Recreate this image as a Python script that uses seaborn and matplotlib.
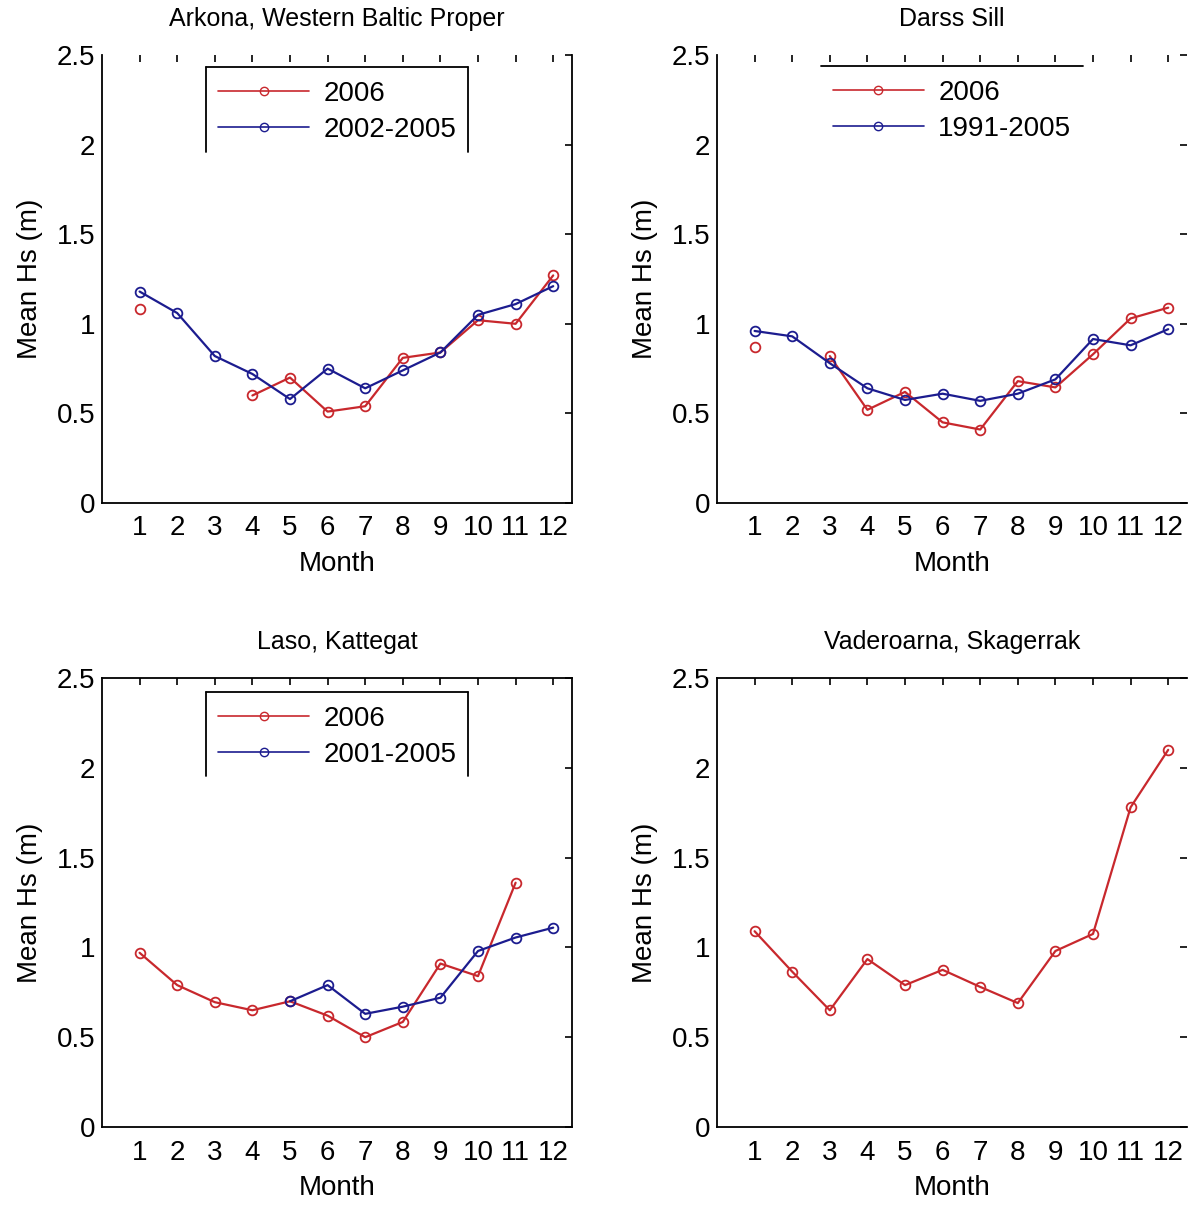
import numpy as np
import pandas as pd
import matplotlib
matplotlib.use("Agg")
import matplotlib.pyplot as plt
from matplotlib.lines import Line2D
import seaborn as sns

nan = np.nan
months = list(range(1, 13))
titles = ["Arkona, Western Baltic Proper", "Darss Sill", "Laso, Kattegat", "Vaderoarna, Skagerrak"]
clim_labels = ["2002-2005", "1991-2005", "2001-2005", None]

arkona_2006 = [1.08, nan, nan, 0.60, 0.70, 0.51, 0.54, 0.81, 0.84, 1.02, 1.00, 1.27]
arkona_clim = [1.18, 1.06, 0.82, 0.72, 0.58, 0.75, 0.64, 0.74, 0.84, 1.05, 1.11, 1.21]
darss_2006 = [0.87, nan, 0.82, 0.52, 0.62, 0.45, 0.41, 0.68, 0.645, 0.83, 1.03, 1.09]
darss_clim = [0.96, 0.93, 0.78, 0.64, 0.575, 0.61, 0.57, 0.61, 0.69, 0.915, 0.88, 0.97]
laso_2006 = [0.97, 0.79, 0.695, 0.65, 0.70, 0.62, 0.50, 0.585, 0.91, 0.84, 1.36, nan]
laso_clim = [nan, nan, nan, nan, 0.70, 0.79, 0.63, 0.67, 0.72, 0.98, 1.055, 1.11]
vader_2006 = [1.09, 0.865, 0.65, 0.935, 0.79, 0.875, 0.78, 0.69, 0.98, 1.075, 1.78, 2.10]

series_2006 = [arkona_2006, darss_2006, laso_2006, vader_2006]
series_clim = [arkona_clim, darss_clim, laso_clim, None]

RED = "#c8282d"
BLUE = "#1c1c8f"

sns.set_theme(style="white")
plt.rcParams["font.family"] = ["Liberation Sans", "DejaVu Sans"]
plt.rcParams["font.size"] = 20
plt.rcParams["text.color"] = "black"
plt.rcParams["axes.labelcolor"] = "black"
plt.rcParams["xtick.color"] = "black"
plt.rcParams["ytick.color"] = "black"


def to_segments(vals):
    rows = []
    seg = 0
    prev_nan = True
    for m, v in zip(months, vals):
        if v is None or (isinstance(v, float) and np.isnan(v)):
            prev_nan = True
            continue
        if prev_nan:
            seg += 1
        prev_nan = False
        rows.append({"month": m, "hs": v, "seg": seg})
    return pd.DataFrame(rows)


fig = plt.figure(figsize=(11.96, 12.06), dpi=100)
W, H = 1196, 1206
boxes = [(102, 55, 572, 503), (717, 55, 1187, 503),
         (102, 678, 572, 1127), (717, 678, 1187, 1127)]
hidden = [["top"], ["top", "right"], [], ["right"]]
# legend decoration: (top y, bottom y of side rules or None) in axes fraction
legend_rule = [(0.973, 0.783), (0.975, None), (0.969, 0.782), None]

for i in range(4):
    x0, y0, x1, y1 = boxes[i]
    ax = fig.add_axes([x0 / W, 1 - y1 / H, (x1 - x0) / W, (y1 - y0) / H])
    d6 = to_segments(series_2006[i])
    sns.lineplot(data=d6, x="month", y="hs", units="seg", estimator=None,
                 color=RED, marker="o", markersize=7, markerfacecolor="none",
                 markeredgecolor=RED, markeredgewidth=1.3, linewidth=1.6, ax=ax)
    if series_clim[i] is not None:
        dc = to_segments(series_clim[i])
        sns.lineplot(data=dc, x="month", y="hs", units="seg", estimator=None,
                     color=BLUE, marker="o", markersize=7, markerfacecolor="none",
                     markeredgecolor=BLUE, markeredgewidth=1.3, linewidth=1.6, ax=ax)
    ax.set_xlim(0, 12.5)
    ax.set_ylim(0, 2.5)
    ax.set_xticks(months)
    ax.set_xticklabels([str(m) for m in months])
    ax.set_yticks([0, 0.5, 1, 1.5, 2, 2.5])
    ax.set_yticklabels(["0", "0.5", "1", "1.5", "2", "2.5"])
    ax.tick_params(direction="in", length=5, width=1.2, top=True, right=True,
                   labelsize=20, colors="black")
    ax.tick_params(axis="x", pad=9)
    ax.tick_params(axis="y", pad=5)
    ax.set_xlabel("Month", fontsize=20, labelpad=7)
    ax.set_ylabel("Mean Hs (m)", fontsize=20, labelpad=10)
    ax.set_title(titles[i], fontsize=18, pad=21, color="black")
    for s in ["left", "bottom", "top", "right"]:
        ax.spines[s].set_color("black")
        ax.spines[s].set_linewidth(1.3)
    for s in hidden[i]:
        ax.spines[s].set_visible(False)
    if clim_labels[i] is not None:
        handles = [Line2D([], [], color=RED, marker="o", markersize=6,
                          markerfacecolor="none", linewidth=1.2),
                   Line2D([], [], color=BLUE, marker="o", markersize=6,
                          markerfacecolor="none", linewidth=1.2)]
        top, bot = legend_rule[i]
        ax.legend(handles, ["2006", clim_labels[i]], loc="upper center",
                  bbox_to_anchor=(0.5, top), fontsize=20, frameon=False,
                  handlelength=3.3, handletextpad=0.5, borderpad=0.5,
                  labelspacing=0.35, borderaxespad=0)
        lx0, lx1 = 0.222, 0.779
        ax.add_line(Line2D([lx0, lx1], [top, top], transform=ax.transAxes,
                           color="black", linewidth=1.3, clip_on=False))
        if bot is not None:
            for lx in (lx0, lx1):
                ax.add_line(Line2D([lx, lx], [top, bot], transform=ax.transAxes,
                                   color="black", linewidth=1.3, clip_on=False))
    else:
        if ax.get_legend() is not None:
            ax.get_legend().remove()

fig.savefig("out.png", dpi=100, facecolor="white")
